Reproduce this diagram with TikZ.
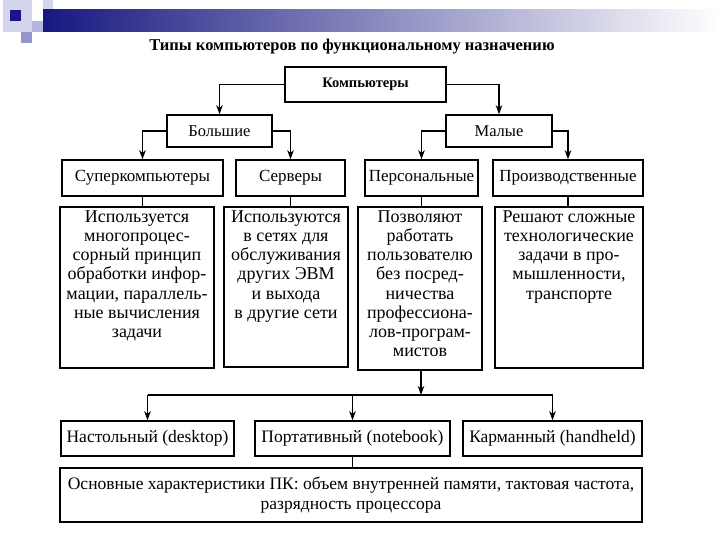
\documentclass[tikz,border=0pt]{standalone}
\usepackage{fontspec}
\setmainfont{Liberation Serif}
\usetikzlibrary{arrows.meta,positioning}

\definecolor{navy}{RGB}{24,24,128}
\definecolor{lilac}{RGB}{150,150,205}
\definecolor{palelilac}{RGB}{212,212,236}

\tikzset{
	box/.style={draw=black, line width=1.5pt, inner sep=2pt, align=center, font=\fontsize{17}{19}\selectfont},
	descbox/.style={draw=black, line width=1.5pt, inner sep=0pt},
	desctext/.style={inner sep=0pt, align=center, font=\fontsize{18}{19.2}\selectfont},
	link/.style={line width=1.1pt},
	arr/.style={line width=1.1pt, -{Stealth[length=9pt,width=6.5pt,inset=2.5pt]}},
}

\begin{document}
\begin{tikzpicture}[x=1pt, y=-1pt]
		\useasboundingbox (0,0) rectangle (720,540);
		
		% --- SLIDE HEADER ---
		\fill[palelilac] (3,0) rectangle (32,32);
		\fill[palelilac] (43,0) rectangle (53,22);
		\fill[lilac] (21,32) rectangle (32,43);
		\fill[lilac!70] (32,21) rectangle (43,32);
		\shade[left color=navy, right color=white] (43,10) rectangle (720,32);
		\fill[navy] (10,10) rectangle (21,21);
		
		\node[font=\fontsize{16.5}{19}\bfseries] (title) at (352,47) {Типы компьютеров по функциональному назначению};
		
		% --- TOP LEVEL ---
		\node[box, font=\fontsize{14.5}{17}\bfseries, minimum width=161pt, minimum height=35pt] (komp) at (365.5,84.5) {Компьютеры};
		\node[box, font=\fontsize{16.5}{19}\selectfont, minimum width=105pt, minimum height=32pt] (bolsh) at (219.5,131) {Большие};
		\node[box, font=\fontsize{16.5}{19}\selectfont, minimum width=106pt, minimum height=32pt] (maly) at (499,131) {Малые};
		
		% --- CATEGORIES ---
		\node[box, minimum width=161pt, minimum height=36pt] (super) at (142.5,178) {Суперкомпьютеры};
		\node[box, minimum width=109pt, minimum height=36pt] (serv) at (290.5,178) {Серверы};
		\node[box, minimum width=113pt, minimum height=36pt] (pers) at (421.5,178) {Персональные};
		\node[box, minimum width=150pt, minimum height=36pt] (proizv) at (568,178) {Производственные};
		
		% --- DESCRIPTIONS ---
		\node[descbox, minimum width=154pt, minimum height=161pt] (d1) at (137,287.5) {};
		\node[descbox, minimum width=124pt, minimum height=160pt] (d2) at (286,287) {};
		\node[descbox, minimum width=124pt, minimum height=163pt] (d3) at (420,288.5) {};
		\node[descbox, minimum width=148pt, minimum height=161pt] (d4) at (569,287.5) {};
		\node[desctext, anchor=north] (t1) at ([yshift=-4pt]d1.north) {Используется\\многопроцес-\\сорный принцип\\обработки инфор-\\мации, параллель-\\ные вычисления\\задачи};
		\node[desctext, anchor=north] (t2) at ([yshift=-4pt]d2.north) {Используются\\в сетях для\\обслуживания\\других ЭВМ\\и выхода\\в другие сети};
		\node[desctext, anchor=north] (t3) at ([yshift=-4pt]d3.north) {Позволяют\\работать\\пользователю\\без посред-\\ничества\\профессиона-\\лов-програм-\\мистов};
		\node[desctext, anchor=north] (t4) at ([yshift=-4pt]d4.north) {Решают сложные\\технологические\\задачи в про-\\мышленности,\\транспорте};
		
		% --- PC TYPES ---
		\node[box, font=\fontsize{17.5}{19}\selectfont, minimum width=173pt, minimum height=35pt] (desk) at (147.5,438.5) {Настольный (desktop)};
		\node[box, font=\fontsize{17.5}{19}\selectfont, minimum width=195pt, minimum height=35pt] (note) at (352.5,438.5) {Портативный (notebook)};
		\node[box, font=\fontsize{17.5}{19}\selectfont, minimum width=179pt, minimum height=35pt] (hand) at (552.5,438.5) {Карманный (handheld)};
		\node[box, font=\fontsize{17.5}{19.5}\selectfont, minimum width=582pt, minimum height=54pt] (osn) at (351,495) {Основные характеристики ПК: объем внутренней памяти, тактовая частота,\\разрядность процессора};
		
		% --- CONNECTORS ---
		\draw[arr] (komp.west) -| (bolsh.north);
		\draw[arr] (komp.east) -| (maly.north);
		\draw[arr] (bolsh.west) -| (super.north);
		\draw[arr] (bolsh.east) -| (serv.north);
		\draw[arr] (maly.west) -| (pers.north);
		\draw[arr] (maly.east) -| (proizv.north);
		\foreach \c/\d in {super/d1, serv/d2, pers/d3, proizv/d4} {
			\draw[link] (\c.south) -- (\c.south |- \d.north);
		}
		\coordinate (bus) at (421,395);
		\draw[arr] (d3.south -| bus) -- (bus);
		\draw[link] (desk.north |- bus) -- (hand.north |- bus);
		\foreach \n in {desk, note, hand} {
			\draw[arr] (\n.north |- bus) -- (\n.north);
		}
		\draw[link] (note.south) -- (note.south |- osn.north);
		
	\end{tikzpicture}
\end{document}
